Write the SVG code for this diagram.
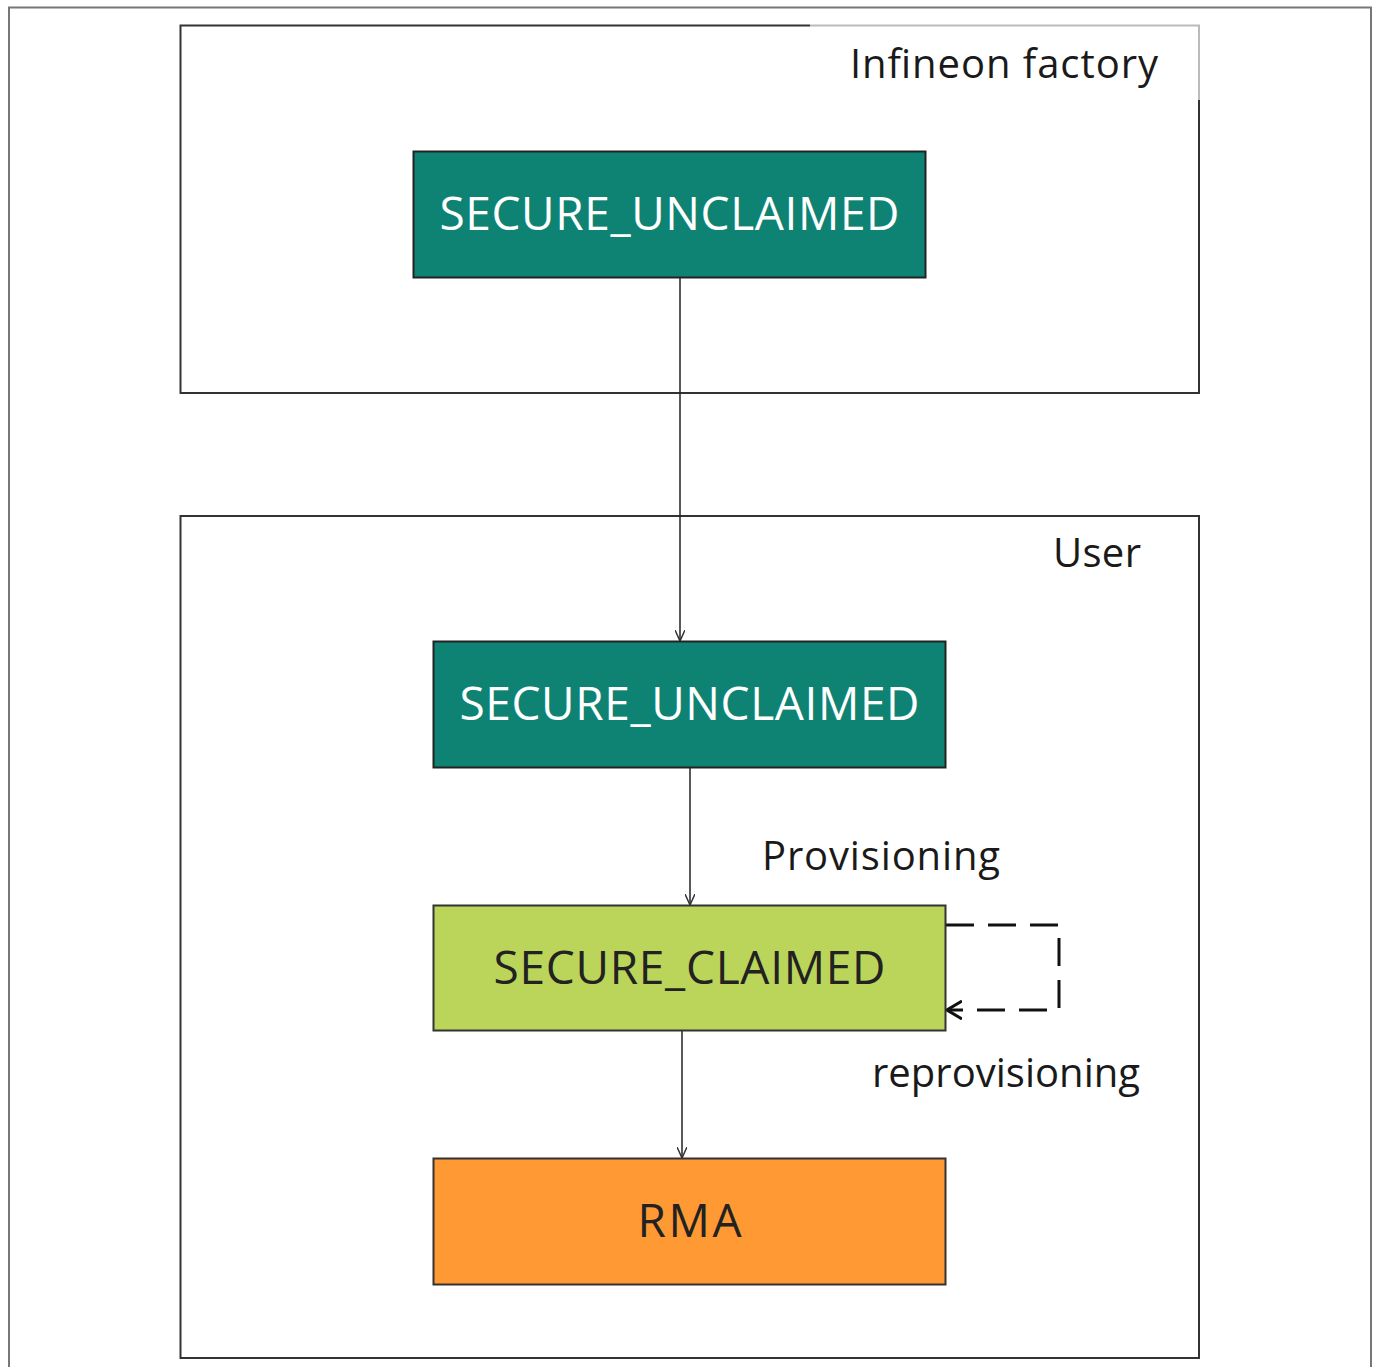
<svg xmlns="http://www.w3.org/2000/svg" width="1378" height="1367" viewBox="0 0 1378 1367">
<defs>
<style>
.frame{fill:none;stroke:#333;stroke-width:2}
.lbl{font-family:"Open Sans","Liberation Sans",sans-serif;font-size:40px;fill:#1a1a1a}
.ntext{font-family:"Open Sans","Liberation Sans",sans-serif;font-size:46px;text-anchor:middle}
.conn{fill:none;stroke:#222;stroke-width:1.5}
.dash{fill:none;stroke:#111;stroke-width:3;stroke-dasharray:28,14}
</style>
<marker id="arr" viewBox="0 0 12 10" refX="11" refY="5" markerWidth="12" markerHeight="10" markerUnits="userSpaceOnUse" orient="auto">
<path d="M0,0 L11,5 L0,10" fill="none" stroke="#333" stroke-width="1.5"/>
</marker>
<marker id="arr2" viewBox="0 0 16 20" refX="15" refY="10" markerWidth="16" markerHeight="20" markerUnits="userSpaceOnUse" orient="auto">
<path d="M0,1 L15,10 L0,19" fill="none" stroke="#111" stroke-width="3"/>
</marker>
</defs>
<rect width="1378" height="1367" fill="#fff"/>
<path d="M9,1367 V7.5 H1371 V1367" fill="none" stroke="#777" stroke-width="2"/>
<g id="infineon-factory">
<path d="M810,25.5 H180.5 V393 H1199 V100" class="frame"/>
<path d="M810,25.5 H1199 V100" fill="none" stroke="#bbb" stroke-width="2"/>
<text class="lbl" x="850" y="78" textLength="308">Infineon factory</text>
</g>
<g id="user">
<rect x="180.5" y="516" width="1018.5" height="842" class="frame"/>
<text class="lbl" x="1053" y="567" textLength="88">User</text>
</g>
<g id="connectors">
<line x1="680" y1="278" x2="680" y2="641" class="conn" marker-end="url(#arr)"/>
<line x1="690" y1="768" x2="690" y2="905" class="conn" marker-end="url(#arr)"/>
<line x1="682" y1="1031" x2="682" y2="1158" class="conn" marker-end="url(#arr)"/>
<path d="M946,925 H1059 V1010 H947" class="dash" marker-end="url(#arr2)"/>
<text class="lbl" x="762" y="870" textLength="238">Provisioning</text>
<text class="lbl" x="872" y="1087" textLength="268">reprovisioning</text>
</g>
<g id="node-unclaimed-factory">
<rect x="413.5" y="151.5" width="512" height="126" fill="#0E8373" stroke="#222" stroke-width="2"/>
<text class="ntext" x="669.5" y="230" fill="#fff" textLength="460">SECURE_UNCLAIMED</text>
</g>
<g id="node-unclaimed-user">
<rect x="433.5" y="641.5" width="512" height="126" fill="#0E8373" stroke="#222" stroke-width="2"/>
<text class="ntext" x="689.5" y="720" fill="#fff" textLength="460">SECURE_UNCLAIMED</text>
</g>
<g id="node-claimed">
<rect x="433.5" y="905.5" width="512" height="125" fill="#BBD55A" stroke="#333" stroke-width="2"/>
<text class="ntext" x="689.5" y="984" fill="#222" textLength="392">SECURE_CLAIMED</text>
</g>
<g id="node-rma">
<rect x="433.5" y="1158.5" width="512" height="126" fill="#FF9933" stroke="#333" stroke-width="2"/>
<text class="ntext" x="689.5" y="1237" fill="#222" textLength="104">RMA</text>
</g>
</svg>
